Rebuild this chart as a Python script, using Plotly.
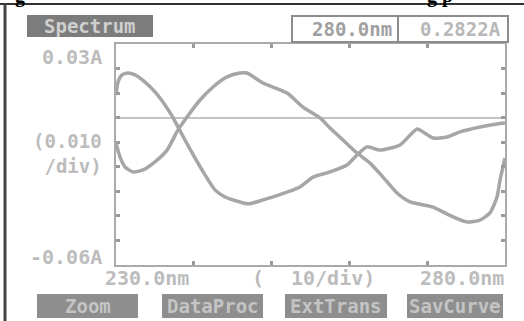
import plotly.graph_objects as go

# ---- data ----
nm_a = [230.0, 230.26, 230.77, 231.54, 232.44, 233.73, 235.01, 236.30, 237.20, 237.97,
        238.87, 240.15, 241.44, 242.72, 244.01, 245.04, 246.97, 248.89, 251.98, 253.65,
        255.32, 257.51, 259.69, 260.98, 262.26, 263.93, 266.50, 268.69, 269.46, 270.75,
        272.54, 274.22, 276.79, 278.97, 280.0]
abs_a = [0.0092, 0.0145, 0.0174, 0.0182, 0.0174, 0.0145, 0.0105, 0.0052, 0.0007, -0.0038,
         -0.0091, -0.0164, -0.0233, -0.0294, -0.0323, -0.0335, -0.0351, -0.0335, -0.0303, -0.0282,
         -0.0242, -0.0221, -0.0193, -0.0152, -0.0119, -0.0132, -0.0111, -0.0046, -0.0058, -0.0083,
         -0.0079, -0.0058, -0.0038, -0.0026, -0.0022]

nm_b = [230.0, 230.51, 231.16, 232.19, 233.47, 235.01, 236.56, 237.97, 239.13, 240.80,
        242.47, 244.27, 245.94, 246.84, 248.89, 251.98, 254.04, 256.22, 257.51, 259.18,
        260.98, 262.65, 264.32, 266.12, 267.79, 270.75, 273.32, 275.12, 276.79, 278.07,
        278.97, 279.36, 279.74, 280.0]
abs_b = [-0.0103, -0.0160, -0.0201, -0.0221, -0.0213, -0.0180, -0.0132, -0.0050, 0.0003, 0.0072,
         0.0125, 0.0166, 0.0182, 0.0182, 0.0141, 0.0100, 0.0043, -0.0001, -0.0042, -0.0091,
         -0.0144, -0.0185, -0.0242, -0.0307, -0.0343, -0.0364, -0.0404, -0.0425, -0.0417, -0.0388,
         -0.0323, -0.0254, -0.0201, -0.0164]

x_ticks = [230, 240, 250, 260, 270, 280]
y_ticks = [0.03, 0.02, 0.01, 0.0, -0.01, -0.02, -0.03, -0.04, -0.05, -0.06]
y_top_label = "0.03A"
y_mid_label = "(0.010<br>/div)"
y_bottom_label = "-0.06A"
x_labels = ["230.0nm", "(", "10/div)", "280.0nm"]
buttons = ["Zoom", "DataProc", "ExtTrans", "SavCurve"]
title_text = "Spectrum"
readout = ["280.0nm", "0.2822A"]

# ---- layout helpers (pixel -> paper) ----
W, H = 524, 321
L, R, T, B = 116, 505, 44, 265
def px(x):
    return (x - L) / (R - L)
def py(y):
    return (B - y) / (B - T)

LINE = "#a6a6a6"
TXT = "#bcbcbc"
FONT = "DejaVu Sans Mono"

fig = go.Figure()
for xs, ys in [(nm_a, abs_a), (nm_b, abs_b)]:
    fig.add_trace(go.Scatter(x=xs, y=ys, mode="lines",
                             line=dict(color=LINE, width=3.5, shape="spline", smoothing=0.6),
                             hoverinfo="skip", showlegend=False))

axis_common = dict(showgrid=False, showline=True, linecolor="#aaaaaa", linewidth=2,
                   mirror="allticks", ticks="inside", ticklen=4, tickwidth=3,
                   tickcolor="#9a9a9a", showticklabels=False)
fig.update_xaxes(range=[230, 280], tickvals=x_ticks, zeroline=False, **axis_common)
fig.update_yaxes(range=[-0.06, 0.03], tickvals=y_ticks, zeroline=True,
                 zerolinecolor="#c4c4c4", zerolinewidth=2, **axis_common)

shapes = []
anns = []
# black frame (document border)
shapes.append(dict(type="line", xref="paper", yref="paper", x0=px(0), x1=px(W), y0=py(4), y1=py(4),
                   line=dict(color="#333333", width=2)))
shapes.append(dict(type="line", xref="paper", yref="paper", x0=px(5), x1=px(5), y0=py(4), y1=py(H + 5),
                   line=dict(color="#444444", width=3)))

# Spectrum title box
shapes.append(dict(type="rect", xref="paper", yref="paper", x0=px(27), x1=px(153), y0=py(37), y1=py(15),
                   fillcolor="#7c7c7c", line=dict(width=0), layer="below"))
anns.append(dict(x=px(90), y=py(26), text=title_text, xanchor="center",
                 font=dict(family=FONT, size=19, color="#cfcfcf", weight="bold")))

# readout box
shapes.append(dict(type="rect", xref="paper", yref="paper", x0=px(292), x1=px(508), y0=py(42), y1=py(16),
                   fillcolor="white", line=dict(color="#8c8c8c", width=2)))
shapes.append(dict(type="line", xref="paper", yref="paper", x0=px(398), x1=px(398), y0=py(42), y1=py(16),
                   line=dict(color="#8c8c8c", width=2)))
anns.append(dict(x=px(352), y=py(29), text=readout[0], xanchor="center",
                 font=dict(family=FONT, size=19, color="#a0a0a0", weight="bold")))
anns.append(dict(x=px(460), y=py(29), text=readout[1], xanchor="center",
                 font=dict(family=FONT, size=19, color="#b8b8b8", weight="bold")))

# y labels
anns.append(dict(x=px(104), y=py(57), text=y_top_label, xanchor="right",
                 font=dict(family=FONT, size=20, color=TXT, weight="bold")))
anns.append(dict(x=px(104), y=py(153), text=y_mid_label, xanchor="right", align="right",
                 font=dict(family=FONT, size=19, color=TXT, weight="bold")))
anns.append(dict(x=px(104), y=py(257), text=y_bottom_label, xanchor="right",
                 font=dict(family=FONT, size=20, color=TXT, weight="bold")))
# x labels
for t, x, xa in zip(x_labels, [103, 258, 289, 506], ["left", "center", "left", "right"]):
    anns.append(dict(x=px(x), y=py(278), text=t, xanchor=xa,
                     font=dict(family=FONT, size=20, color=TXT, weight="bold")))

# buttons
for t, (x0, x1) in zip(buttons, [(37, 138), (162, 263), (285, 387), (407, 503)]):
    shapes.append(dict(type="rect", xref="paper", yref="paper", x0=px(x0), x1=px(x1),
                       y0=py(318), y1=py(294), fillcolor="#8e8e8e", line=dict(width=0)))
    anns.append(dict(x=px((x0 + x1) / 2), y=py(306), text=t, xanchor="center",
                     font=dict(family=FONT, size=19, color="#c4c4c4", weight="bold")))

# caption fragments at the very top (cut off)
anns.append(dict(x=px(20), y=py(9), text="g", yanchor="bottom", xanchor="center",
                 font=dict(family="Liberation Serif", size=20, color="black", weight="bold")))
anns.append(dict(x=px(440), y=py(9), text="g p", yanchor="bottom", xanchor="center",
                 font=dict(family="Liberation Serif", size=20, color="black", weight="bold")))

for a in anns:
    a.setdefault("xref", "paper")
    a.setdefault("yref", "paper")
    a.setdefault("showarrow", False)
    a.setdefault("yanchor", "middle")

fig.update_layout(width=W, height=H, margin=dict(l=L, r=W - R, t=T, b=H - B),
                  paper_bgcolor="white", plot_bgcolor="white",
                  shapes=shapes, annotations=anns)

fig.write_html("out.html")
